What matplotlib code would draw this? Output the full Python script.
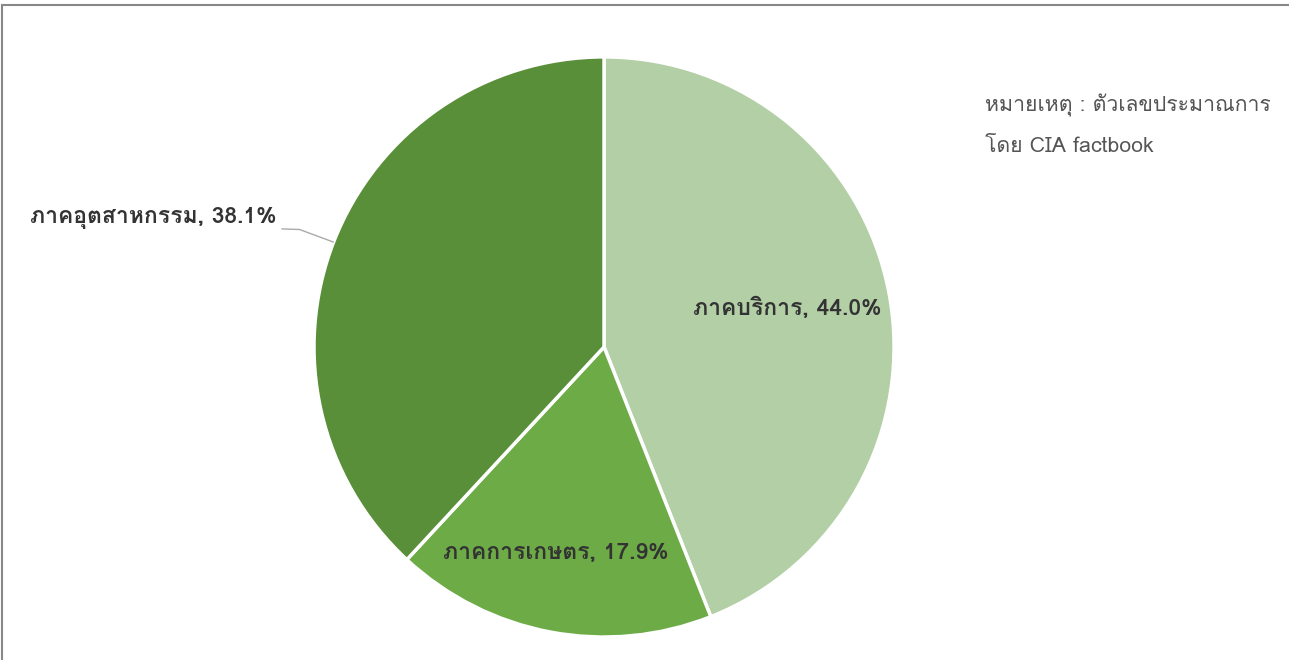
import matplotlib
matplotlib.use('Agg')
import matplotlib.pyplot as plt
from matplotlib import font_manager
from matplotlib.ft2font import FT2Font
from matplotlib.patches import Rectangle

# find an installed font that has Thai glyphs
thai_font = None
for f in font_manager.fontManager.ttflist:
    try:
        if 0x0E20 in FT2Font(f.fname).get_charmap():
            thai_font = f.name
            break
    except Exception:
        pass
families = ([thai_font] if thai_font else []) + ['DejaVu Sans']
plt.rcParams['font.family'] = families

sectors = ['ภาคบริการ', 'ภาคการเกษตร', 'ภาคอุตสาหกรรม']
shares = [44.0, 17.9, 38.1]
colors = ['#b3cfa6', '#6cab46', '#5a8f39']
note_lines = ['หมายเหตุ : ตัวเลขประมาณการ', 'โดย CIA factbook']

fig = plt.figure(figsize=(12.89, 6.6), dpi=100)
ax = fig.add_axes([0.2436, 0.0348, 0.45, 0.879])
wedges, _ = ax.pie(shares, colors=colors, startangle=90, counterclock=False,
                   wedgeprops=dict(edgecolor='white', linewidth=2.5))
ax.set_aspect('auto')
ax.set_xlim(-1, 1)
ax.set_ylim(-1, 1)

labels = ['%s, %.1f%%' % (s, v) for s, v in zip(sectors, shares)]
lab_kw = dict(fontsize=16.5, fontweight='bold', color='#333333', va='center')
ax.text(0.633, 0.134, labels[0], ha='center', **lab_kw)
ax.text(-0.166, -0.71, labels[1], ha='center', **lab_kw)
ax.text(-1.128, 0.445, labels[2], ha='right', **lab_kw)
ax.plot([-1.11, -1.05, -0.934], [0.407, 0.405, 0.362], color='#aaaaaa', lw=1,
        clip_on=False)

fig.text(985 / 1289, 1 - 105 / 660, note_lines[0], ha='left', va='center',
         fontsize=15.3, color='#555555')
fig.text(985 / 1289, 1 - 147 / 660, note_lines[1], ha='left', va='center',
         fontsize=15.3, color='#555555')

fig.patches.append(Rectangle((2 / 1289, -0.1), 1.2, 1 - 5 / 660 + 0.1,
                             transform=fig.transFigure, fill=False,
                             edgecolor='#888888', lw=1.5))

fig.savefig('out.png', dpi=100)
